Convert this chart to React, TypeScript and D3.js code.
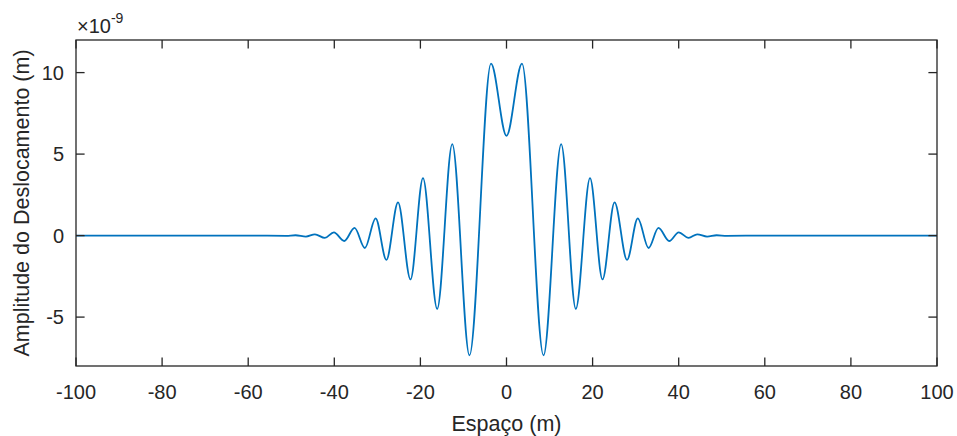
import React from "react";
import * as d3 from "d3";

// Extrema / key points of the displacement curve (x in m, y in 1e-9 m)
const xs = [
  -100, -60, -51.2, -49, -46.6, -44.5, -42.2, -40.1, -37.7, -35.3, -32.9, -30.4,
  -27.9, -25.2, -22.3, -19.4, -16.1, -12.6, -8.6, -3.6, 0, 3.6, 8.6, 12.7, 16.1,
  19.4, 22.3, 25.1, 28.0, 30.5, 33.0, 35.3, 37.8, 40.0, 42.3, 44.3, 46.6, 48.8,
  51.2, 60, 100,
];
const ys = [
  0, 0, -0.015, 0.02, -0.06, 0.08, -0.14, 0.2, -0.33, 0.47, -0.76, 1.06, -1.49,
  2.04, -2.69, 3.53, -4.49, 5.61, -7.35, 10.55, 6.12, 10.55, -7.35, 5.61, -4.49,
  3.52, -2.69, 2.04, -1.49, 1.06, -0.76, 0.47, -0.33, 0.2, -0.14, 0.08, -0.06,
  0.02, -0.015, 0, 0,
];
const xTicks = [-100, -80, -60, -40, -20, 0, 20, 40, 60, 80, 100];
const yTicks = [-5, 0, 5, 10];

const W = 957;
const H = 436;
const L = 76, R = 937, T = 40, B = 366;
const AX = "#262626";
const FONT = "'Liberation Sans', Arial, Helvetica, sans-serif";

export default function App() {
  const x = d3.scaleLinear().domain([-100, 100]).range([L, R]);
  const y = d3.scaleLinear().domain([-8, 12]).range([B, T]);
  const pts: [number, number][] = xs.map((v, i) => [v, ys[i]]);
  const line = d3
    .line<[number, number]>()
    .x((d) => x(d[0]))
    .y((d) => y(d[1]))
    .curve(d3.curveMonotoneX);
  const tl = 8.6;
  return (
    <svg
      width={W}
      height={H}
      style={{ position: "absolute", left: 0, top: 0, background: "#fff" }}
      fontFamily={FONT}
    >
      <rect x={0} y={0} width={W} height={H} fill="#fff" />
      <path d={line(pts) || ""} fill="none" stroke="#0072BD" strokeWidth={1.8} />
      {/* box */}
      <rect x={L} y={T} width={R - L} height={B - T} fill="none" stroke={AX} strokeWidth={1.3} />
      {xTicks.map((t) => (
        <g key={"x" + t}>
          <line x1={x(t)} x2={x(t)} y1={B} y2={B - tl} stroke={AX} strokeWidth={1.3} />
          <line x1={x(t)} x2={x(t)} y1={T} y2={T + tl} stroke={AX} strokeWidth={1.3} />
          <text x={x(t)} y={399} fontSize={20} textAnchor="middle" fill={AX}>
            {t}
          </text>
        </g>
      ))}
      {yTicks.map((t) => (
        <g key={"y" + t}>
          <line x1={L} x2={L + tl} y1={y(t)} y2={y(t)} stroke={AX} strokeWidth={1.3} />
          <line x1={R} x2={R - tl} y1={y(t)} y2={y(t)} stroke={AX} strokeWidth={1.3} />
          <text x={64} y={y(t) + 7} fontSize={20} textAnchor="end" fill={AX}>
            {t}
          </text>
        </g>
      ))}
      <text x={(L + R) / 2} y={431} fontSize={21.5} textAnchor="middle" fill={AX}>
        Espaço (m)
      </text>
      <text
        transform={`translate(29, ${(T + B) / 2}) rotate(-90)`}
        fontSize={21.5}
        textAnchor="middle"
        fill={AX}
      >
        Amplitude do Deslocamento (m)
      </text>
      <text x={77} y={33} fontSize={20} fill={AX}>
        ×10
        <tspan fontSize={14} dy={-10}>
          -9
        </tspan>
      </text>
    </svg>
  );
}
